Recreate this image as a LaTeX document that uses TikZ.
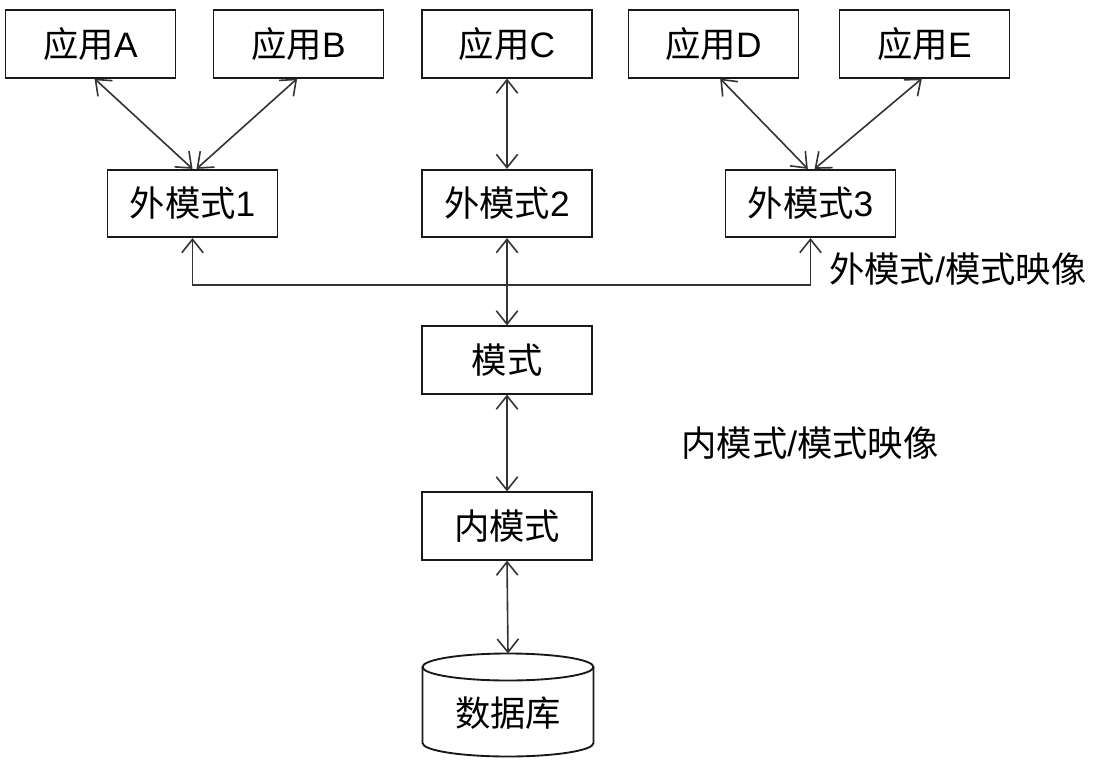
\documentclass[tikz,border=0pt]{standalone}
\usepackage{fontspec}
\setmainfont{Liberation Sans}
\newfontfamily\cjk{Noto Sans CJK SC}
\usetikzlibrary{arrows.meta}

\begin{document}
\begin{tikzpicture}[x=0.75pt,y=-0.75pt,
    box/.style={draw=black!90,line width=1.4pt,minimum width=127.5pt,
      minimum height=50.5pt,inner sep=0pt,font=\fontsize{26.5}{30}\selectfont},
    link/.style={draw=black!80,line width=1.2pt,
      {Straight Barb[length=10pt,width=16pt]}-{Straight Barb[length=10pt,width=16pt]}},
    note/.style={inner sep=0pt,font=\fontsize{26.5}{30}\selectfont}]
    \useasboundingbox (0,0) rectangle (1095,763);

    % --- 应用 ---
    \node[box] (appA) at (90.5,44) {{\cjk 应用}A};
    \node[box] (appB) at (298.5,44) {{\cjk 应用}B};
    \node[box] (appC) at (507,44) {{\cjk 应用}C};
    \node[box] (appD) at (713.5,44) {{\cjk 应用}D};
    \node[box] (appE) at (924.5,44) {{\cjk 应用}E};

    % --- 外模式 ---
    \node[box] (ext1) at (192.5,203.5) {{\cjk 外模式}1};
    \node[box] (ext2) at (507,203.5) {{\cjk 外模式}2};
    \node[box] (ext3) at (810.5,203.5) {{\cjk 外模式}3};

    % --- 模式, 内模式 ---
    \node[box] (schema) at (507,360) {\cjk 模式};
    \node[box] (intern) at (507,526) {\cjk 内模式};

    % --- 数据库 ---
    \draw[draw=black!90,line width=1.4pt]
      (422.5,667) -- (422.5,743)
      arc[start angle=180,end angle=0,x radius=85.5,y radius=13.5]
      -- (593.5,667);
    \draw[draw=black!90,line width=1.4pt]
      (508,667) ellipse[x radius=85.5,y radius=13.5];
    \node[note] (db) at (508,713) {\cjk 数据库};
    \coordinate (dbtop) at (508,653.5);

    % --- 连线 ---
    \draw[link] ([xshift=3pt]appA.south) -- ([xshift=0pt]ext1.north);
    \draw[link] ([xshift=-1pt]appB.south) -- ([xshift=3pt]ext1.north);
    \draw[link] (appC.south) -- (ext2.north);
    \draw[link] ([xshift=5pt]appD.south) -- ([xshift=-2pt]ext3.north);
    \draw[link] ([xshift=-2pt]appE.south) -- ([xshift=3pt]ext3.north);

    \coordinate (bus) at (507,285);
    \draw[link] (ext1.south) |- (bus) -| (ext3.south);
    \draw[link] (ext2.south) -- (schema.north);
    \draw[link] (schema.south) -- (intern.north);
    \draw[link] (intern.south) -- (dbtop);

    % 映像
    \node[note,anchor=west] (extmap) at (829,269) {{\cjk 外模式}/{\cjk 模式映像}};
    \node[note] (intmap) at (810,443) {{\cjk 内模式}/{\cjk 模式映像}};
\end{tikzpicture}
\end{document}
